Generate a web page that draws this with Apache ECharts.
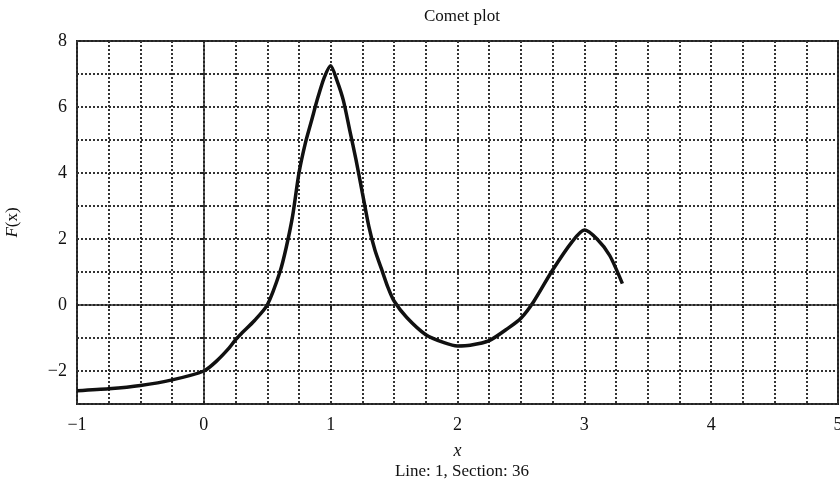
<!DOCTYPE html>
<html>
<head>
<meta charset="utf-8">
<script src="https://cdn.jsdelivr.net/npm/echarts@6/dist/echarts.min.js"></script>
<style>html,body{margin:0;padding:0;background:#fff}#c{width:840px;height:489px}</style>
</head>
<body>
<div id="c"></div>
<script>
const xValues = [-1, -0.75, -0.5, -0.25, 0, 0.1, 0.2, 0.25, 0.3, 0.4, 0.5, 0.6, 0.65, 0.7, 0.75, 0.8, 0.85, 0.9, 0.95, 1.0, 1.05, 1.1, 1.15, 1.2, 1.25, 1.3, 1.35, 1.4, 1.45, 1.5, 1.6, 1.75, 1.9, 2.0, 2.1, 2.25, 2.4, 2.5, 2.6, 2.75, 2.9, 3.0, 3.1, 3.2, 3.3];
const yValues = [-2.6, -2.54, -2.44, -2.27, -2.0, -1.7, -1.3, -1.05, -0.85, -0.47, 0.0, 1.0, 1.75, 2.7, 4.0, 4.9, 5.6, 6.3, 6.9, 7.25, 6.8, 6.2, 5.3, 4.4, 3.4, 2.4, 1.65, 1.1, 0.55, 0.12, -0.38, -0.9, -1.15, -1.24, -1.22, -1.08, -0.7, -0.4, 0.1, 1.06, 1.9, 2.27, 2.0, 1.5, 0.65];
const titleText = 'Comet plot';
const footerText = 'Line: 1, Section: 36';

const font = 'Liberation Serif';
const chart = echarts.init(document.getElementById('c'), null, {renderer: 'canvas'});
const dotted = {type: [2, 2], width: 2, color: '#333'};
chart.setOption({
  animation: false,
  backgroundColor: '#fff',
  title: [
    {text: titleText, left: 457, top: 3, textAlign: 'center',
     textStyle: {fontFamily: font, fontWeight: 'normal', fontSize: 17, color: '#111'}},
    {text: footerText, left: 457, top: 458, textAlign: 'center',
     textStyle: {fontFamily: font, fontWeight: 'normal', fontSize: 17, color: '#111'}}
  ],
  grid: {left: 77, right: 2, top: 41, bottom: 85, show: true, borderColor: '#222', borderWidth: 2,
         backgroundColor: 'transparent', containLabel: false, outerBoundsMode: 'none'},
  xAxis: {
    type: 'value', min: -1, max: 5, interval: 1,
    name: 'x', nameLocation: 'middle', nameGap: 38,
    nameTextStyle: {fontFamily: font, fontStyle: 'italic', fontSize: 18, color: '#111'},
    axisLine: {show: false},
    axisTick: {show: true, length: 4, inside: false, lineStyle: {color: '#222', width: 2}},
    minorTick: {show: true, splitNumber: 4, length: 3, lineStyle: {color: '#222', width: 2}},
    axisLabel: {margin: 12, formatter: v => String(v).replace('-', '\u2212'), fontFamily: font, fontSize: 18, color: '#111'},
    splitLine: {show: true, lineStyle: dotted},
    minorSplitLine: {show: true, lineStyle: dotted}
  },
  yAxis: {
    type: 'value', min: -3, max: 8, interval: 1,
    name: '{i|F}(x)', nameLocation: 'middle', nameGap: 56, nameRotate: 90,
    nameTextStyle: {fontFamily: font, fontSize: 17, color: '#111',
      rich: {i: {fontFamily: font, fontStyle: 'italic', fontSize: 17, color: '#111'}}},
    axisLine: {show: false},
    axisTick: {show: true, length: 4, lineStyle: {color: '#222', width: 2}},
    axisLabel: {margin: 10, fontFamily: font, fontSize: 18, color: '#111',
      formatter: v => (Math.round(v) % 2 === 0 ? String(v).replace('-', '\u2212') : '')},
    splitLine: {show: true, lineStyle: dotted}
  },
  series: [{
    type: 'line',
    data: xValues.map((x, i) => [x, yValues[i]]),
    showSymbol: false,
    smooth: 0.25,
    lineStyle: {color: '#111', width: 3.5},
    markLine: {
      silent: true, symbol: 'none', label: {show: false},
      lineStyle: {type: 'solid', color: '#222', width: 1.5},
      data: [{xAxis: 0}, {yAxis: 0}]
    },
    z: 3
  }]
});
</script>
</body>
</html>
